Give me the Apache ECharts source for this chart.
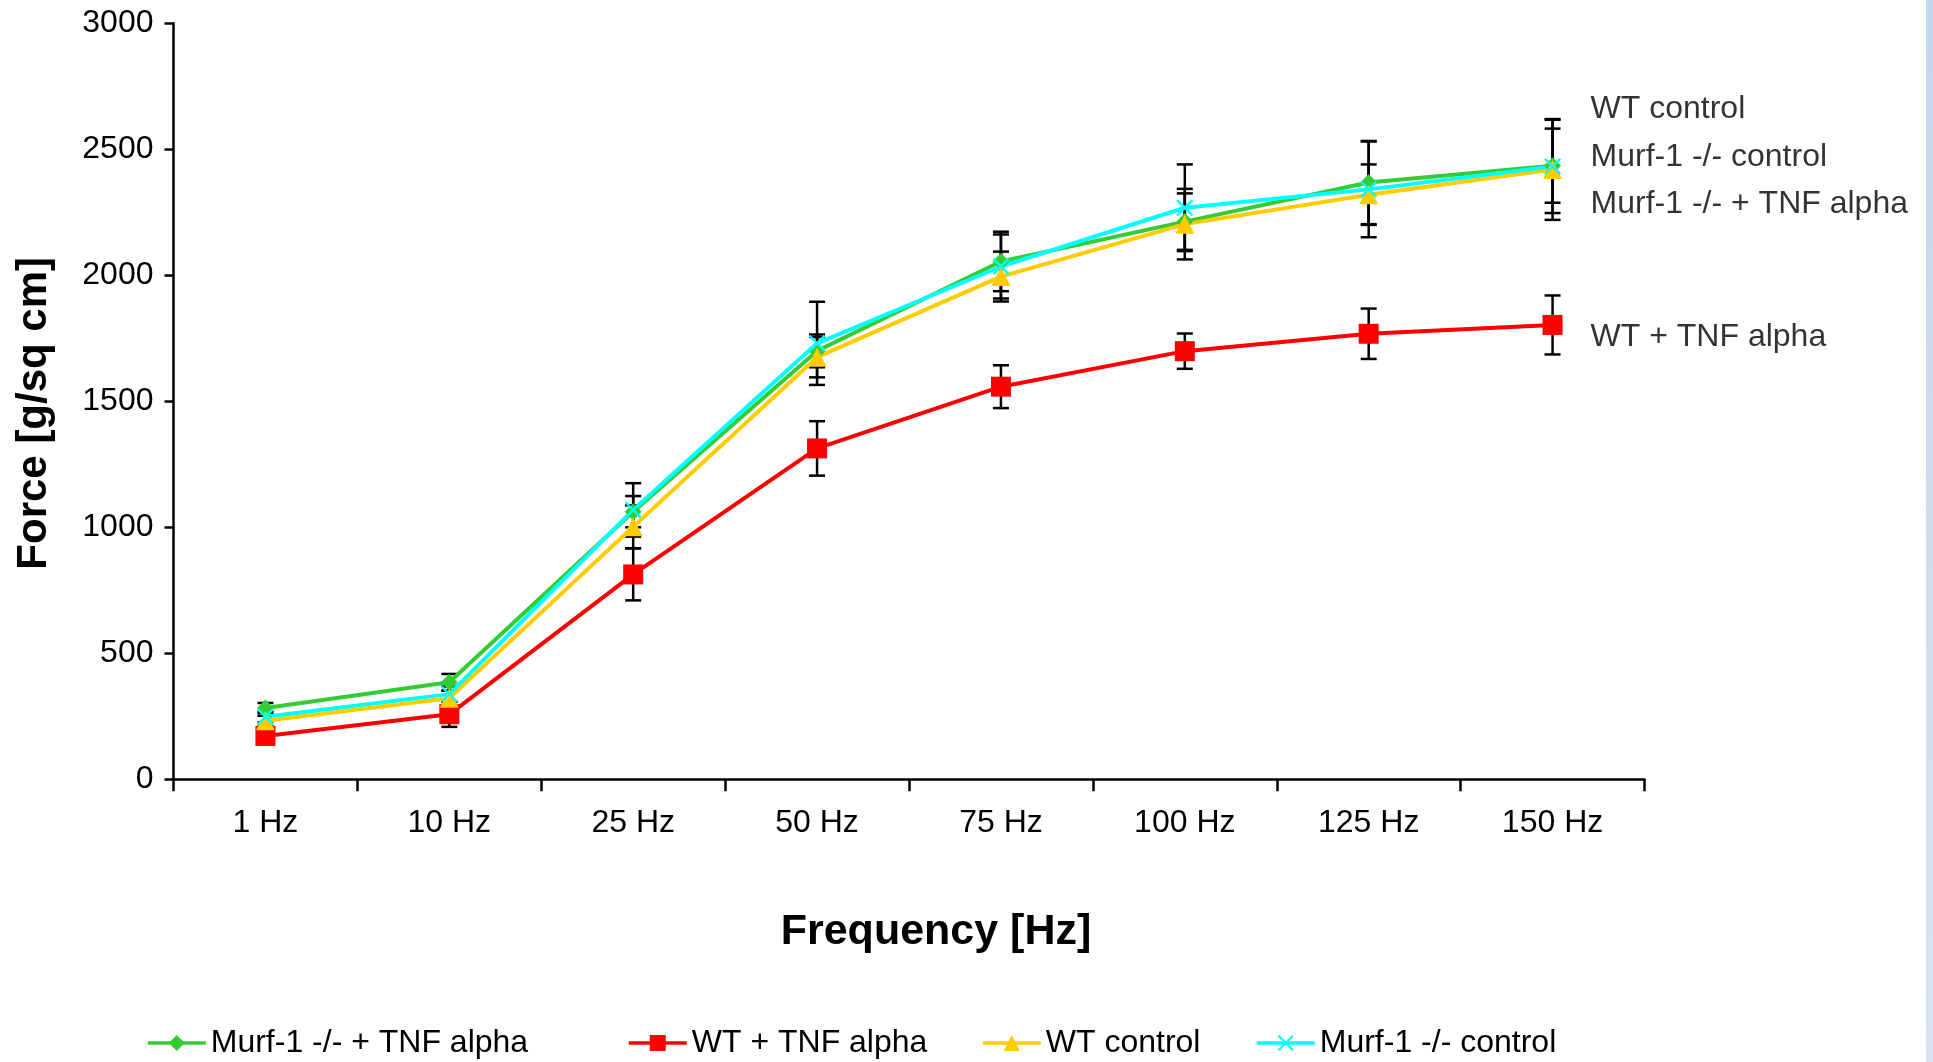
<!DOCTYPE html>
<html>
<head>
<meta charset="utf-8">
<script src="https://cdn.jsdelivr.net/npm/echarts@6/dist/echarts.min.js"></script>
<style>
html,body{margin:0;padding:0;background:#fff;}
#chart{width:1933px;height:1062px;}
</style>
</head>
<body>
<div id="chart"></div>
<script>
const categories = ['1 Hz', '10 Hz', '25 Hz', '50 Hz', '75 Hz', '100 Hz', '125 Hz', '150 Hz'];
const yTicks = [0, 500, 1000, 1500, 2000, 2500, 3000];

const murfTnf = [283, 385, 1062, 1700, 2055, 2213, 2368, 2435];
const wtTnf = [172, 258, 813, 1313, 1558, 1699, 1768, 1803];
const wtControl = [232, 322, 1002, 1675, 1995, 2203, 2320, 2420];
const murfControl = [248, 338, 1069, 1730, 2035, 2268, 2341, 2432];

const murfTnfErr = [20, 33, 62, 65, 118, 112, 165, 147];
const wtTnfErr = [22, 50, 103, 108, 85, 70, 100, 117];
const wtControlErr = [20, 30, 85, 80, 99, 140, 120, 200];
const murfControlErr = [22, 30, 106, 165, 127, 172, 190, 185];

const seriesNames = ['Murf-1 -/- + TNF alpha', 'WT + TNF alpha', 'WT control', 'Murf-1 -/- control'];
const seriesColors = ['#33cc33', '#ff0000', '#ffcc00', '#00ffff'];

const sideLabels = ['WT control', 'Murf-1 -/- control', 'Murf-1 -/- + TNF alpha', 'WT + TNF alpha'];
const sideLabelValues = [2660, 2469, 2283, 1755];

const FONT = '"Liberation Sans", Arial, sans-serif';
const xShape = 'path://M0,1 L1,0 L5,4 L9,0 L10,1 L6,5 L10,9 L9,10 L5,6 L1,10 L0,9 L4,5 Z';

function errData(vals, errs) {
  return vals.map((v, i) => [i, v, errs[i]]);
}
function errSeries(vals, errs) {
  return {
    type: 'custom',
    z: 1,
    silent: true,
    data: errData(vals, errs),
    encode: { x: 0, y: 1 },
    renderItem: function (params, api) {
      const i = api.value(0), v = api.value(1), e = api.value(2);
      const top = api.coord([i, v + e]);
      const bot = api.coord([i, v - e]);
      const hw = 8;
      const st = { stroke: '#000', lineWidth: 2.5 };
      return {
        type: 'group',
        children: [
          { type: 'line', shape: { x1: top[0], y1: top[1], x2: bot[0], y2: bot[1] }, style: st },
          { type: 'line', shape: { x1: top[0] - hw, y1: top[1], x2: top[0] + hw, y2: top[1] }, style: st },
          { type: 'line', shape: { x1: bot[0] - hw, y1: bot[1], x2: bot[0] + hw, y2: bot[1] }, style: st }
        ]
      };
    }
  };
}
function lineSeries(name, vals, color, symbol, size) {
  return {
    name: name,
    type: 'line',
    data: vals,
    z: 3,
    symbol: symbol,
    symbolSize: size,
    lineStyle: { color: color, width: 4 },
    itemStyle: { color: color },
    emphasis: { disabled: true }
  };
}

const legendLefts = [141, 622, 976, 1250];
const legends = seriesNames.map((n, k) => ({
  data: [n],
  left: legendLefts[k],
  top: 1022,
  itemWidth: 58,
  itemHeight: 20,
  itemGap: 10,
  lineStyle: { width: 3.5 },
  textStyle: { fontFamily: FONT, fontSize: 32, color: '#000' }
}));

const chart = echarts.init(document.getElementById('chart'), null, { renderer: 'canvas' });
chart.setOption({
  animation: false,
  backgroundColor: '#fff',
  textStyle: { fontFamily: FONT },
  grid: { left: 173.5, right: 288.5, top: 23.3, bottom: 282.7, containLabel: false },
  legend: legends,
  graphic: [
    {
      type: 'rect',
      right: 0, top: 0,
      shape: { width: 7, height: 1062 },
      style: {
        fill: new echarts.graphic.LinearGradient(0, 0, 0, 1, [
          { offset: 0, color: '#c3d7ec' },
          { offset: 1, color: '#d6e4f1' }
        ])
      }
    }
  ],
  xAxis: {
    type: 'category',
    data: categories,
    boundaryGap: true,
    name: 'Frequency [Hz]',
    nameLocation: 'middle',
    nameGap: 131,
    nameTextStyle: { fontFamily: FONT, fontSize: 43, fontWeight: 'bold', color: '#000', padding: [0, 0, 0, 54] },
    axisLine: { lineStyle: { color: '#000', width: 2.5 } },
    axisTick: { show: true, length: 12, lineStyle: { color: '#000', width: 2.5 }, alignWithLabel: false },
    axisLabel: { fontFamily: FONT, fontSize: 32, color: '#000', margin: 28 },
    splitLine: { show: false }
  },
  yAxis: {
    type: 'value',
    min: 0,
    max: 3000,
    interval: 500,
    name: 'Force [g/sq cm]',
    nameLocation: 'middle',
    nameRotate: 90,
    nameGap: 118,
    nameTextStyle: { fontFamily: FONT, fontSize: 42, fontWeight: 'bold', color: '#000', padding: [0, 24, 0, 0] },
    axisLine: { show: true, lineStyle: { color: '#000', width: 2.5 } },
    axisTick: { show: true, length: 9, lineStyle: { color: '#000', width: 2.5 } },
    axisLabel: {
      fontFamily: FONT, fontSize: 32, color: '#000', margin: 20,
      formatter: function (v) { return yTicks.indexOf(v) >= 0 ? String(v) : ''; }
    },
    splitLine: { show: false }
  },
  series: [
    errSeries(murfTnf, murfTnfErr),
    errSeries(wtTnf, wtTnfErr),
    errSeries(wtControl, wtControlErr),
    errSeries(murfControl, murfControlErr),
    lineSeries(seriesNames[0], murfTnf, seriesColors[0], 'diamond', 17),
    lineSeries(seriesNames[1], wtTnf, seriesColors[1], 'rect', 20),
    lineSeries(seriesNames[2], wtControl, seriesColors[2], 'triangle', 19),
    lineSeries(seriesNames[3], murfControl, seriesColors[3], xShape, 17),
    {
      type: 'scatter',
      silent: true,
      symbolSize: 0,
      z: 4,
      data: sideLabels.map((n, k) => ({ name: n, value: [categories.length - 1, sideLabelValues[k]] })),
      label: {
        show: true,
        position: 'right',
        distance: 38,
        formatter: '{b}',
        fontFamily: FONT,
        fontSize: 32,
        color: '#000'
      }
    }
  ]
});
</script>
</body>
</html>
